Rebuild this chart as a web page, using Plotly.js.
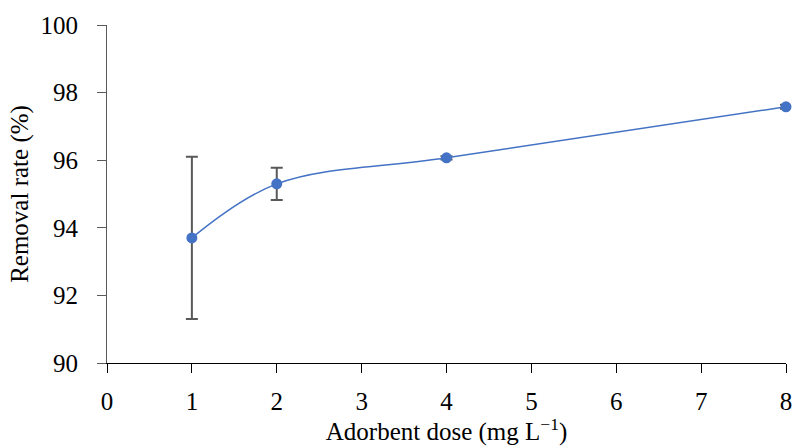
<!DOCTYPE html>
<html>
<head>
<meta charset="utf-8">
<script src="https://cdn.plot.ly/plotly-3.0.1.min.js"></script>
<style>html,body{margin:0;padding:0;background:#fff;}#chart{width:793px;height:446px;}</style>
</head>
<body>
<div id="chart"></div>
<script>
const doses = [1, 2, 4, 8];
const removalRate = [93.7, 95.3, 96.07, 97.58];
const errors = [2.4, 0.48, 0.05, 0.06];
const xTicks = [0, 1, 2, 3, 4, 5, 6, 7, 8];
const yTicks = [90, 92, 94, 96, 98, 100];

const font = "'Liberation Serif', 'DejaVu Serif', serif";

Plotly.newPlot('chart', [{
  x: doses,
  y: removalRate,
  type: 'scatter',
  mode: 'lines+markers',
  line: {color: '#4472C4', width: 1.5, shape: 'spline', smoothing: 1},
  marker: {color: '#4472C4', size: 11},
  error_y: {type: 'data', array: errors, visible: true, color: '#595959', thickness: 2, width: 6},
  cliponaxis: false,
  showlegend: false
}], {
  width: 793, height: 446,
  margin: {l: 107, r: 7, t: 25, b: 83},
  paper_bgcolor: '#fff', plot_bgcolor: '#fff',
  font: {family: font, size: 25, color: '#000'},
  xaxis: {
    range: [0, 8], tickvals: xTicks, ticktext: xTicks.map(String),
    showgrid: false, zeroline: false, showline: true, linecolor: '#000', linewidth: 1,
    ticks: 'outside', ticklen: 9, tickcolor: '#000', tickfont: {size: 25},
    ticklabelstandoff: 7,
    title: {text: 'Adorbent dose (mg L<sup>−1</sup>)', font: {size: 25}, standoff: 6}
  },
  yaxis: {
    range: [90, 100], tickvals: yTicks,
    showgrid: false, zeroline: false, showline: true, linecolor: '#595959', linewidth: 1,
    ticks: 'outside', ticklen: 9, tickcolor: '#595959', tickfont: {size: 25},
    ticklabelstandoff: 14,
    title: {text: 'Removal rate (%)', font: {size: 25}, standoff: 4}
  }
}, {displayModeBar: false, staticPlot: true});
</script>
</body>
</html>
